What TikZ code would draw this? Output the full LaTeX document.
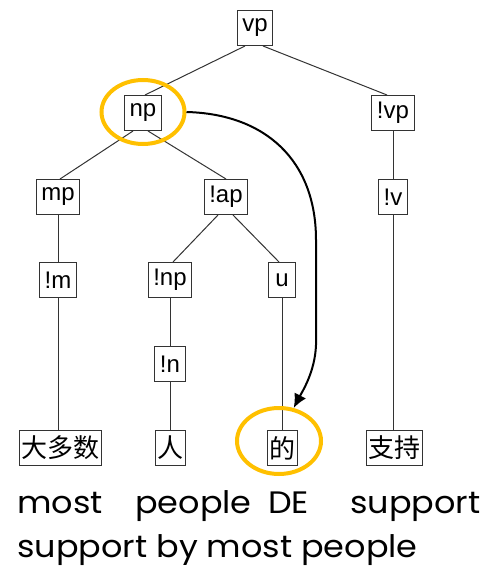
\documentclass[tikz,border=0pt]{standalone}
\usepackage{fontspec}
\setmainfont{Liberation Sans}
\newfontfamily\cjk{Noto Sans CJK SC}
\newfontfamily\gloss[FakeStretch=1.08]{Poppins}
\usetikzlibrary{calc,shapes.geometric,arrows.meta}
\definecolor{ringgold}{RGB}{255,192,0}

\begin{document}
\begin{tikzpicture}[x=1pt,y=-1pt,
        cat/.style={draw=black!80,line width=1pt,minimum height=35pt,minimum width=27pt,
            inner xsep=5pt,inner ysep=0pt,font=\fontsize{24}{24}\selectfont},
        word/.style={cat,inner xsep=2pt,font=\cjk\fontsize{26}{26}\selectfont},
        branch/.style={draw=black!80,line width=1pt},
        ring/.style={draw=ringgold,line width=4pt,ellipse,inner sep=0pt},
        glossword/.style={anchor=base west,inner sep=0pt,font=\gloss\fontsize{31}{31}\selectfont}]
    \useasboundingbox (0,0) rectangle (483,567);

    % tree
    \node[cat] (vp) at (255,28) {vp};
    \node[cat] (np) at (143,113) {np};
    \node[cat] (nvp) at (393,113) {!vp};
    \node[cat] (mp) at (58,197) {mp};
    \node[cat] (nap) at (226,197) {!ap};
    \node[cat] (nv) at (393,197) {!v};
    \node[cat] (nm) at (58,280) {!m};
    \node[cat] (nnp) at (170,280) {!np};
    \node[cat] (u) at (282,280) {u};
    \node[cat] (nn) at (170,364) {!n};
    \node[word] (dds) at (60,448) {大多数};
    \node[word] (ren) at (170,448) {人};
    \node[word] (de) at (282,448) {的};
    \node[word] (zhichi) at (394,448) {支持};

    \draw[branch] ([xshift=-10pt]vp.south) -- ([xshift=2pt]np.north);
    \draw[branch] ([xshift=8pt]vp.south) -- ([xshift=-6pt]nvp.north);
    \draw[branch] ([xshift=-10pt]np.south) -- ([xshift=2pt]mp.north);
    \draw[branch] ([xshift=5pt]np.south) -- (nap.north);
    \draw[branch] ([xshift=-8pt]nap.south) -- ([xshift=3pt]nnp.north);
    \draw[branch] ([xshift=7pt]nap.south) -- ([xshift=-3pt]u.north);
    \foreach \a/\b in {mp/nm, nm/dds, nvp/nv, nv/zhichi, nnp/nn, nn/ren, u/de}
        \draw[branch] (\a.south) -- (\a.south |- \b.north);

    % highlighted pair
    \node[ring,minimum width=83pt,minimum height=64pt] (npring) at (143,112) {};
    \node[ring,minimum width=84pt,minimum height=66pt] (dering) at (279,441) {};
    \draw[line width=2pt,-{Latex[length=14pt,width=13pt]}] (npring.east)
        .. controls (265,114) and (316,160) .. (316,240) -- (316,345)
        .. controls (315,372) and (302,392) .. (dering.66);

    % glosses
    \node[glossword] (most) at (17,513) {most};
    \node[glossword] (people) at (135,513) {people};
    \node[glossword] (DE) at (268,513) {DE};
    \node[glossword] (support) at (350,513) {support};
    \node[glossword] (transl) at (17,557) {support by most people};
\end{tikzpicture}
\end{document}
